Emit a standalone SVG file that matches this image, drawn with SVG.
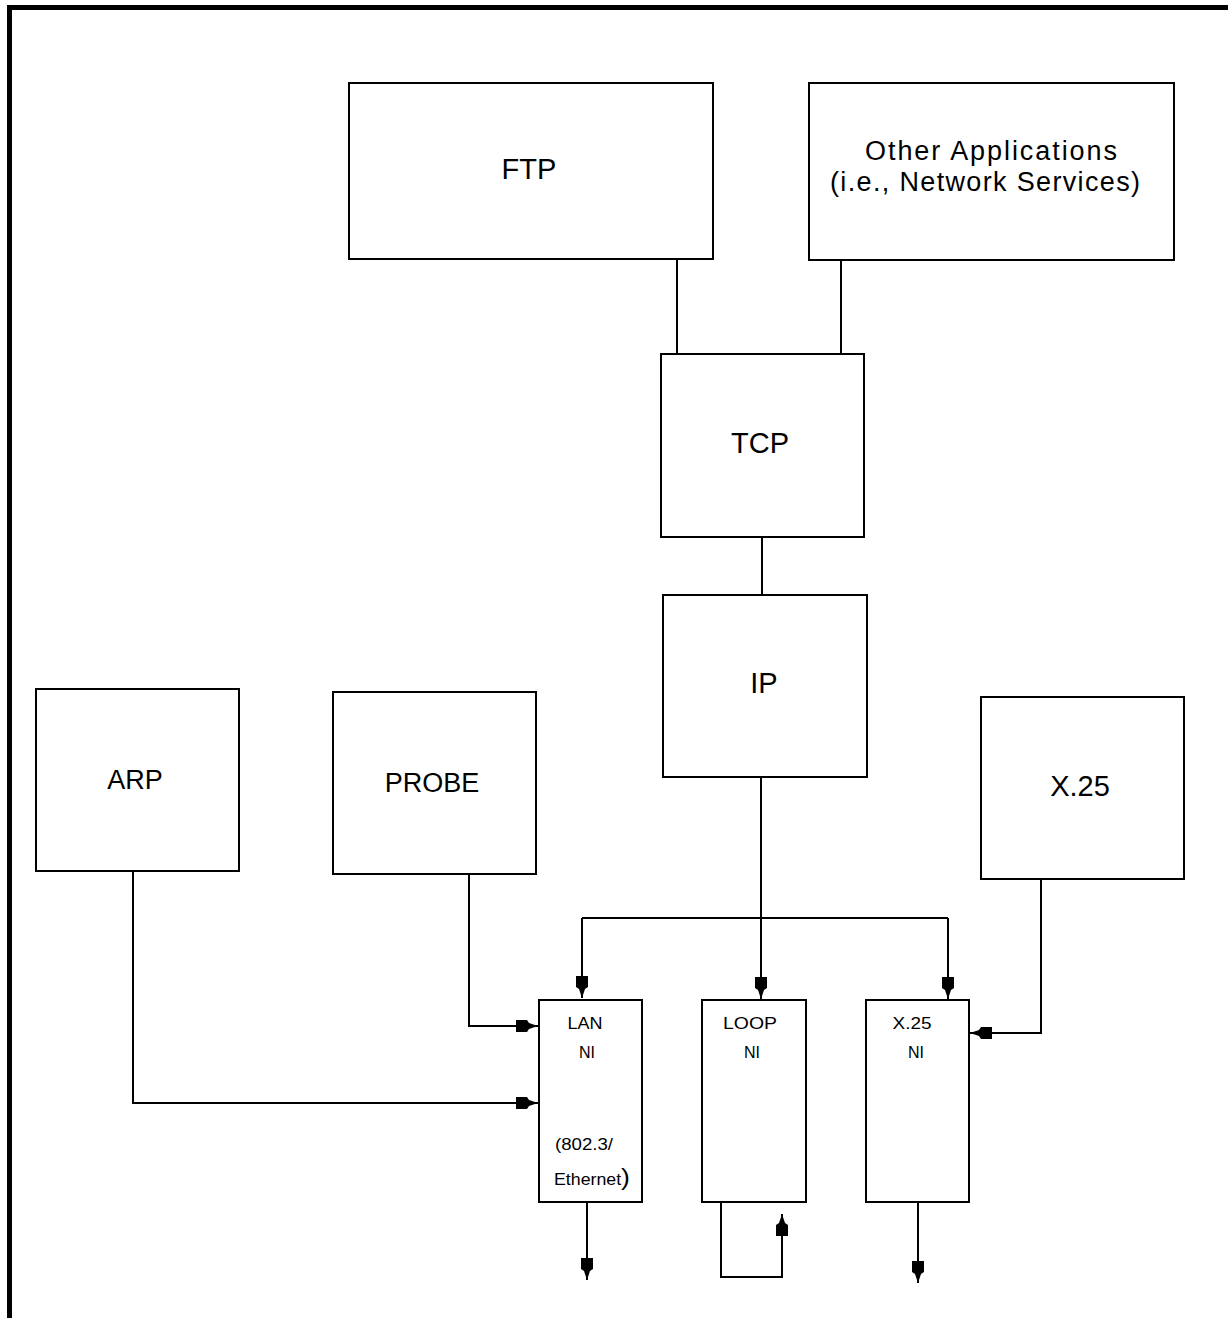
<svg xmlns="http://www.w3.org/2000/svg" width="1228" height="1318" viewBox="0 0 1228 1318">
  <style>
    .box { fill: #fff; stroke: #000; stroke-width: 2; }
    .wire { fill: none; stroke: #000; stroke-width: 2; }
    .lbl { font-family: "Liberation Sans", Arial, sans-serif; fill: #000; text-anchor: middle; }
    .big { font-size: 29px; }
    .mid { font-size: 27px; }
    .small { font-size: 16px; }
  </style>
  <defs>
    <marker id="head" markerUnits="userSpaceOnUse" markerWidth="24" markerHeight="14" refX="22" refY="0" viewBox="0 -7 24 14" orient="auto" overflow="visible">
      <path d="M0,-6 L11,-6 L13,-3 L22,0 L13,3 L11,6 L0,6 Z" fill="#000"/>
    </marker>
  </defs>

  <rect width="1228" height="1318" fill="#fff"/>

  <!-- page frame (top and left rules) -->
  <path d="M9.5,1318 V7.5 H1228" fill="none" stroke="#000" stroke-width="5"/>

  <!-- connectors -->
  <g id="connectors">
    <path class="wire" d="M677,259 V354"/>
    <path class="wire" d="M841,260 V354"/>
    <path class="wire" d="M762,537 V595"/>
    <path class="wire" d="M761,777 V999" marker-end="url(#head)"/>
    <path class="wire" d="M582,918 H948"/>
    <path class="wire" d="M582,918 V998" marker-end="url(#head)"/>
    <path class="wire" d="M948,918 V999" marker-end="url(#head)"/>
    <path class="wire" d="M469,874 V1026 H538" marker-end="url(#head)"/>
    <path class="wire" d="M133,871 V1103 H538" marker-end="url(#head)"/>
    <path class="wire" d="M1041,879 V1033 H970" marker-end="url(#head)"/>
    <path class="wire" d="M587,1202 V1280" marker-end="url(#head)"/>
    <path class="wire" d="M721,1202 V1277 H782 V1214" marker-end="url(#head)"/>
    <path class="wire" d="M918,1202 V1283" marker-end="url(#head)"/>
  </g>

  <g id="ftp">
    <rect class="box" x="349" y="83" width="364" height="176"/>
    <text class="lbl big" x="529" y="179">FTP</text>
  </g>

  <g id="other-apps">
    <rect class="box" x="809" y="83" width="365" height="177"/>
    <text class="lbl mid" x="991" y="160" textLength="252" lengthAdjust="spacing">Other Applications</text>
    <text class="lbl mid" x="985" y="191" textLength="310" lengthAdjust="spacing">(i.e., Network Services)</text>
  </g>

  <g id="tcp">
    <rect class="box" x="661" y="354" width="203" height="183"/>
    <text class="lbl big" x="760" y="453">TCP</text>
  </g>

  <g id="ip">
    <rect class="box" x="663" y="595" width="204" height="182"/>
    <text class="lbl big" x="764" y="693">IP</text>
  </g>

  <g id="arp">
    <rect class="box" x="36" y="689" width="203" height="182"/>
    <text class="lbl mid" x="135" y="789">ARP</text>
  </g>

  <g id="probe">
    <rect class="box" x="333" y="692" width="203" height="182"/>
    <text class="lbl mid" x="432" y="792">PROBE</text>
  </g>

  <g id="x25">
    <rect class="box" x="981" y="697" width="203" height="182"/>
    <text class="lbl big" x="1080" y="796">X.25</text>
  </g>

  <g id="lan-ni">
    <rect class="box" x="539" y="1000" width="103" height="202"/>
    <text class="lbl small" x="585" y="1029" textLength="35" lengthAdjust="spacingAndGlyphs">LAN</text>
    <text class="lbl small" x="587" y="1058">NI</text>
    <text class="lbl small" x="584" y="1150" textLength="58" lengthAdjust="spacingAndGlyphs">(802.3/</text>
    <text class="lbl small" x="592" y="1185" textLength="76" lengthAdjust="spacingAndGlyphs">Ethernet<tspan font-size="24">)</tspan></text>
  </g>

  <g id="loop-ni">
    <rect class="box" x="702" y="1000" width="104" height="202"/>
    <text class="lbl small" x="750" y="1029" textLength="54" lengthAdjust="spacingAndGlyphs">LOOP</text>
    <text class="lbl small" x="752" y="1058">NI</text>
  </g>

  <g id="x25-ni">
    <rect class="box" x="866" y="1000" width="103" height="202"/>
    <text class="lbl small" x="912" y="1029" textLength="39" lengthAdjust="spacingAndGlyphs">X.25</text>
    <text class="lbl small" x="916" y="1058">NI</text>
  </g>
</svg>
